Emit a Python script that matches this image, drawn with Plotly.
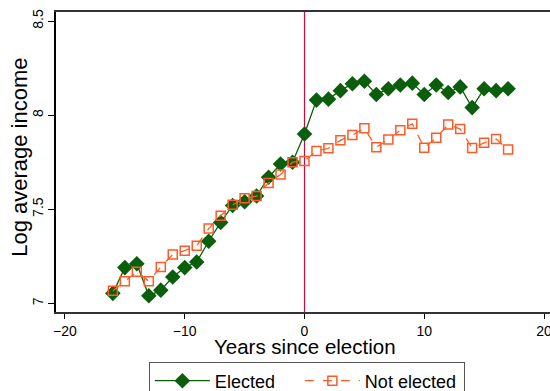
import plotly.graph_objects as go

years = list(range(-16, 18))
elected = [7.053, 7.19, 7.21, 7.04, 7.07, 7.14, 7.19, 7.22, 7.33, 7.43, 7.52, 7.54, 7.57, 7.67, 7.74, 7.75,
           7.90, 8.08, 8.085, 8.13, 8.167, 8.18, 8.11, 8.14, 8.16, 8.17, 8.11, 8.16, 8.12, 8.15, 8.04, 8.14, 8.13, 8.14]
not_elected = [7.067, 7.118, 7.168, 7.118, 7.193, 7.26, 7.28, 7.306, 7.397, 7.465, 7.524, 7.558, 7.57, 7.64, 7.685, 7.75,
               7.756, 7.81, 7.824, 7.866, 7.894, 7.93, 7.83, 7.87, 7.92, 7.954, 7.827, 7.88, 7.95, 7.926, 7.825, 7.853, 7.873, 7.818]
x_ticks = [-20, -10, 0, 10, 20]
y_ticks = [7, 7.5, 8, 8.5]
y_tick_labels = ["7", "7.5", "8", "8.5"]

GREEN = "#0b5e0b"
ORANGE = "#ff5a26"

fig = go.Figure()
fig.add_trace(go.Scatter(
    x=years, y=elected, mode="lines+markers", name="Elected",
    line=dict(color=GREEN, width=1.3),
    marker=dict(symbol="diamond", size=12, color=GREEN),
    legendwidth=80,
))
fig.add_trace(go.Scatter(
    x=years, y=not_elected, mode="lines+markers", name="Not elected",
    line=dict(color=ORANGE, width=1.3, dash="dash"),
    marker=dict(symbol="square-open", size=9, color=ORANGE, line=dict(width=1.5, color=ORANGE)),
    legendwidth=94,
))
fig.add_vline(x=0, line=dict(color="#cc0a40", width=1.2), layer="below")

fig.add_annotation(
    text="Log average income", textangle=-90, xref="paper", yref="paper",
    x=-0.073, y=0.517, xanchor="center", yanchor="middle", showarrow=False,
    font=dict(size=22, color="black"),
)
fig.add_annotation(
    text="Years since election", xref="paper", yref="paper",
    x=0.504, y=-0.116, xanchor="center", yanchor="middle", showarrow=False,
    font=dict(size=20.5, color="black"),
)

fig.update_layout(
    width=550, height=391,
    margin=dict(l=56, r=0, t=12, b=79, autoexpand=False),
    paper_bgcolor="white", plot_bgcolor="white",
    font=dict(family="Liberation Sans, Arial, sans-serif", color="black", size=14),
    showlegend=True,
    legend=dict(
        orientation="h", x=0.188, xanchor="left", y=-0.165, yanchor="top",
        bordercolor="#555555", borderwidth=1, font=dict(size=18),
        itemwidth=55, tracegroupgap=0,
    ),
    xaxis=dict(
        range=[-20.75, 20.5], tickvals=x_ticks, ticks="outside", ticklen=5, tickwidth=1,
        tickcolor="black", showline=True, linecolor="#333333", linewidth=2, mirror=True,
        showgrid=False, zeroline=False, tickfont=dict(size=14), automargin=False,
        ticklabeloverflow="allow",
    ),
    yaxis=dict(
        range=[6.954, 8.548], tickvals=y_ticks, ticktext=y_tick_labels, tickangle=-90,
        ticks="outside", ticklen=6, tickwidth=1, tickcolor="black",
        showline=True, linecolor="black", linewidth=1.5, mirror=True,
        showgrid=False, zeroline=False, tickfont=dict(size=14), automargin=False,
    ),
)

fig.write_html(
    "out.html",
    config={"displayModeBar": False},
    post_script="document.body.style.margin='0';document.body.style.overflow='hidden';",
)
